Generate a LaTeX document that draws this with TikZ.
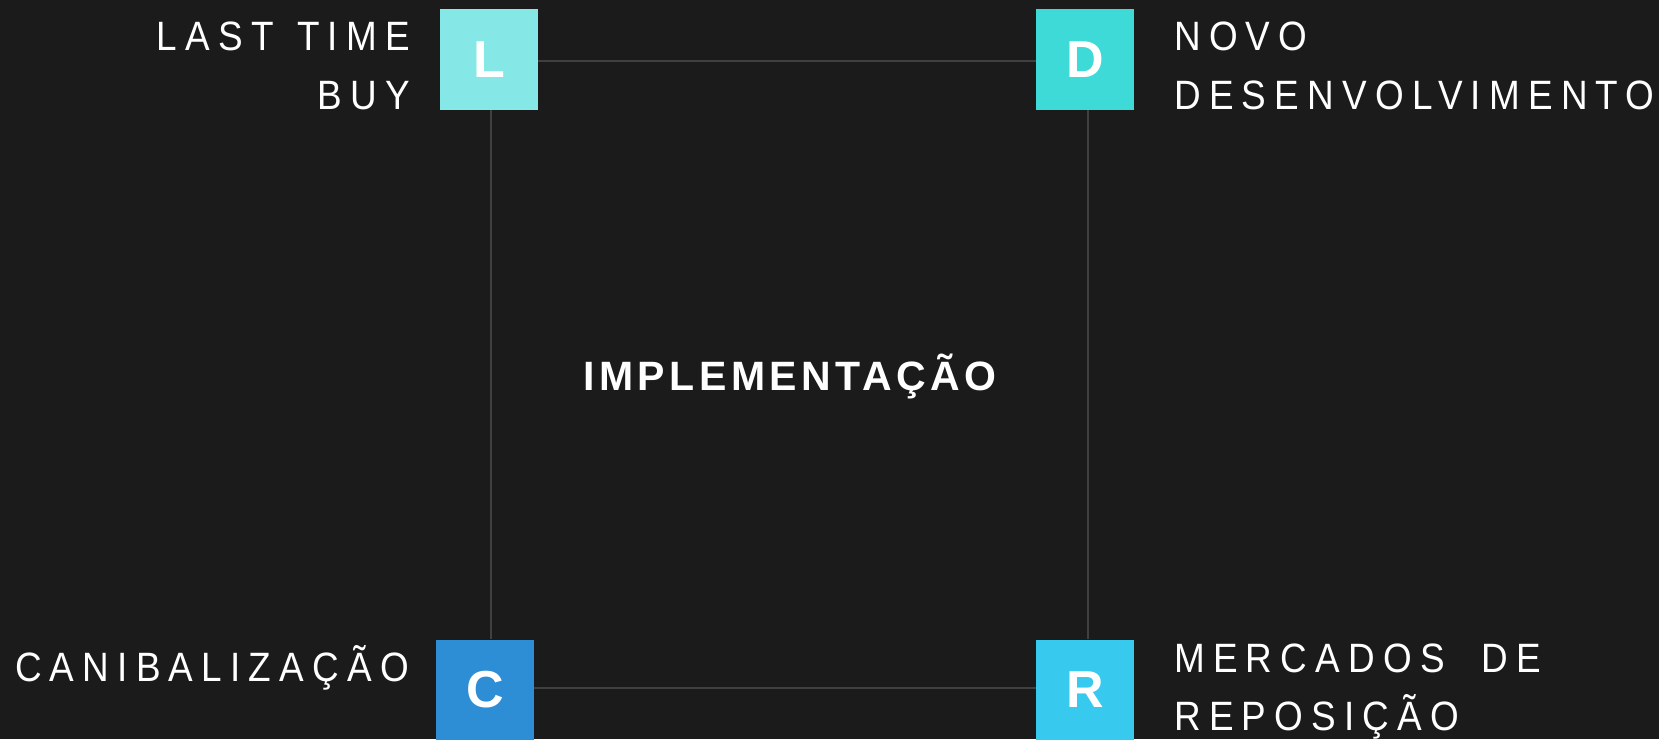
\documentclass[tikz,border=0pt]{standalone}
\usepackage{fontspec}
\setmainfont{Liberation Sans}
\newfontfamily\lblfont[FakeStretch=0.9,LetterSpace=20]{Liberation Sans}
\newfontfamily\ctrfont[LetterSpace=11]{Liberation Sans}
\definecolor{bg}{HTML}{1B1B1B}
\definecolor{edge}{HTML}{404040}
\definecolor{cL}{HTML}{86E8E6}
\definecolor{cD}{HTML}{3DDAD7}
\definecolor{cC}{HTML}{2D8ED5}
\definecolor{cR}{HTML}{38C9EF}
\tikzset{
  sq/.style={minimum width=98pt,minimum height=101pt,inner sep=0pt,text=white,
    font=\fontsize{52}{52}\selectfont\bfseries},
  lbl/.style={inner sep=0pt,text=white,font=\lblfont\fontsize{41}{41}\selectfont},
  ctr/.style={inner sep=0pt,text=white,font=\ctrfont\fontsize{41}{41}\selectfont\bfseries},
  link/.style={draw=edge,line width=2pt}
}
\begin{document}
\begin{tikzpicture}[x=1pt,y=-1pt]
\path[fill=bg,use as bounding box] (0,0) rectangle (1659,739);
\node[sq,fill=cL] (L) at (489,59.5) {L};
\node[sq,fill=cD] (D) at (1085,59.5) {D};
\node[sq,fill=cC] (C) at (485,690) {C};
\node[sq,fill=cR] (R) at (1085,690) {R};
\draw[link] (L.east |- 0,60.5) -- (D.west |- 0,60.5);
\draw[link] (C.east |- 0,687.7) -- (R.west |- 0,687.7);
\draw[link] (490.5,0 |- L.south) -- (490.5,0 |- C.north);
\draw[link] (1088,0 |- D.south) -- (1088,0 |- R.north);
\node[ctr,anchor=base] (M) at (790,390) {IMPLEMENTAÇÃO};
\node[lbl,anchor=base east] (L1) at (410,50.7) {LAST\hspace{5pt} TIME};
\node[lbl,anchor=base east] (L2) at (410,109) {BUY};
\node[lbl,anchor=base west] (D1) at (1174,50.7) {NOVO};
\node[lbl,anchor=base west] (D2) at (1174,109) {DESENVOLVIMENTO};
\node[lbl,anchor=base east] (C1) at (409,681.7) {CANIBALIZAÇÃO};
\node[lbl,anchor=base west] (R1) at (1174,672.3) {MERCADOS\ \ DE};
\node[lbl,anchor=base west] (R2) at (1174,730.7) {REPOSIÇÃO};
\end{tikzpicture}
\end{document}
